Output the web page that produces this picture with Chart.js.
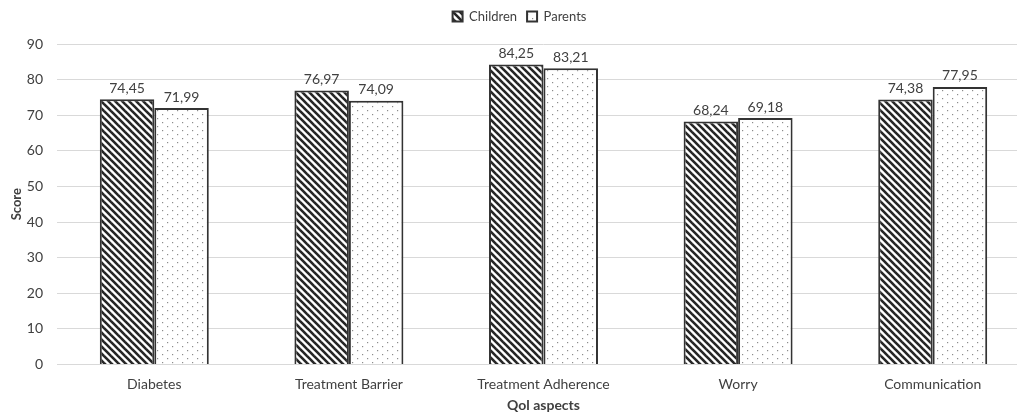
<!DOCTYPE html>
<html>
<head>
<meta charset="utf-8">
<script src="https://cdn.jsdelivr.net/npm/chart.js@4/dist/chart.umd.min.js"></script>
<style>
  html, body { margin: 0; padding: 0; background: #fff; overflow: hidden; }
  #wrap { position: relative; width: 1030px; height: 415px; }
</style>
</head>
<body>
<div id="wrap"><canvas id="chart"></canvas></div>
<script>
const categories = ['Diabetes', 'Treatment Barrier', 'Treatment Adherence', 'Worry', 'Communication'];
const childrenScores = [74.45, 76.97, 84.25, 68.24, 74.38];
const parentScores = [71.99, 74.09, 83.21, 69.18, 77.95];
const seriesNames = ['Children', 'Parents'];
const yTicks = [0, 10, 20, 30, 40, 50, 60, 70, 80, 90];

const FONT = 'Lato, "Open Sans", sans-serif';

// diagonal hatch fill
function hatchPattern() {
  const s = 7;
  const c = document.createElement('canvas');
  c.width = s; c.height = s;
  const g = c.getContext('2d');
  g.fillStyle = '#ffffff';
  g.fillRect(0, 0, s, s);
  g.strokeStyle = '#262626';
  g.lineWidth = 2.6;
  for (const k of [-s, 0, s]) {
    g.beginPath();
    g.moveTo(k - 1, -1);
    g.lineTo(k + s + 1, s + 1);
    g.stroke();
  }
  return g.createPattern(c, 'repeat');
}

// sparse dotted fill
function dotPattern() {
  const w = 10, h = 8;
  const c = document.createElement('canvas');
  c.width = w; c.height = h;
  const g = c.getContext('2d');
  g.fillStyle = '#ffffff';
  g.fillRect(0, 0, w, h);
  g.fillStyle = '#8c8c8c';
  g.fillRect(2, 2, 1.2, 1.2);
  g.fillRect(7, 6, 1.2, 1.2);
  return g.createPattern(c, 'repeat');
}

const fmt = v => v.toFixed(2).replace('.', ',');

// value labels above each bar
const valueLabels = {
  id: 'valueLabels',
  afterDatasetsDraw(chart) {
    const ctx = chart.ctx;
    ctx.save();
    ctx.font = '14px ' + FONT;
    ctx.fillStyle = '#404040';
    ctx.textAlign = 'center';
    ctx.textBaseline = 'bottom';
    chart.data.datasets.forEach((ds, i) => {
      chart.getDatasetMeta(i).data.forEach((bar, j) => {
        ctx.fillText(fmt(ds.data[j]), bar.x, bar.y - 4);
      });
    });
    ctx.restore();
  }
};

// extra space between legend and plot
const legendGap = {
  id: 'legendGap',
  beforeInit(chart) {
    const fit = chart.legend.fit;
    chart.legend.fit = function () {
      fit.call(this);
      this.height += 11;
    };
  }
};

new Chart(document.getElementById('chart'), {
  type: 'bar',
  data: {
    labels: categories,
    datasets: [
      {
        label: seriesNames[0],
        data: childrenScores,
        backgroundColor: hatchPattern(),
        borderColor: '#333333',
        borderWidth: 2
      },
      {
        label: seriesNames[1],
        data: parentScores,
        backgroundColor: dotPattern(),
        borderColor: '#333333',
        borderWidth: 2
      }
    ]
  },
  options: {
    responsive: true,
    maintainAspectRatio: false,
    animation: false,
    devicePixelRatio: 1,
    layout: { padding: { left: 9, right: 0, top: 0, bottom: 1 } },
    datasets: {
      bar: { barPercentage: 1.0, categoryPercentage: 0.56 }
    },
    plugins: {
      tooltip: { enabled: false },
      legend: {
        position: 'top',
        labels: {
          boxWidth: 10,
          boxHeight: 10,
          padding: 10,
          color: '#404040',
          font: { family: FONT, size: 13 }
        }
      }
    },
    scales: {
      x: {
        grid: { display: false },
        border: { display: false },
        ticks: { color: '#404040', font: { family: FONT, size: 14 }, padding: 4 },
        title: {
          display: true,
          text: 'Qol aspects',
          color: '#404040',
          font: { family: FONT, size: 14, weight: 'bold' },
          padding: { top: 0, bottom: 0 }
        }
      },
      y: {
        min: 0,
        max: 90,
        afterBuildTicks(axis) { axis.ticks = yTicks.map(v => ({ value: v })); },
        afterFit(axis) { axis.width = 48; },
        grid: { color: '#d9d9d9', lineWidth: 1, drawTicks: false },
        border: { display: false },
        ticks: { color: '#404040', font: { family: FONT, size: 14 }, padding: 14 },
        title: {
          display: true,
          text: 'Score',
          color: '#404040',
          font: { family: FONT, size: 13, weight: 'bold' },
          padding: { top: 0, bottom: 0 }
        }
      }
    }
  },
  plugins: [valueLabels, legendGap]
});
</script>
</body>
</html>
